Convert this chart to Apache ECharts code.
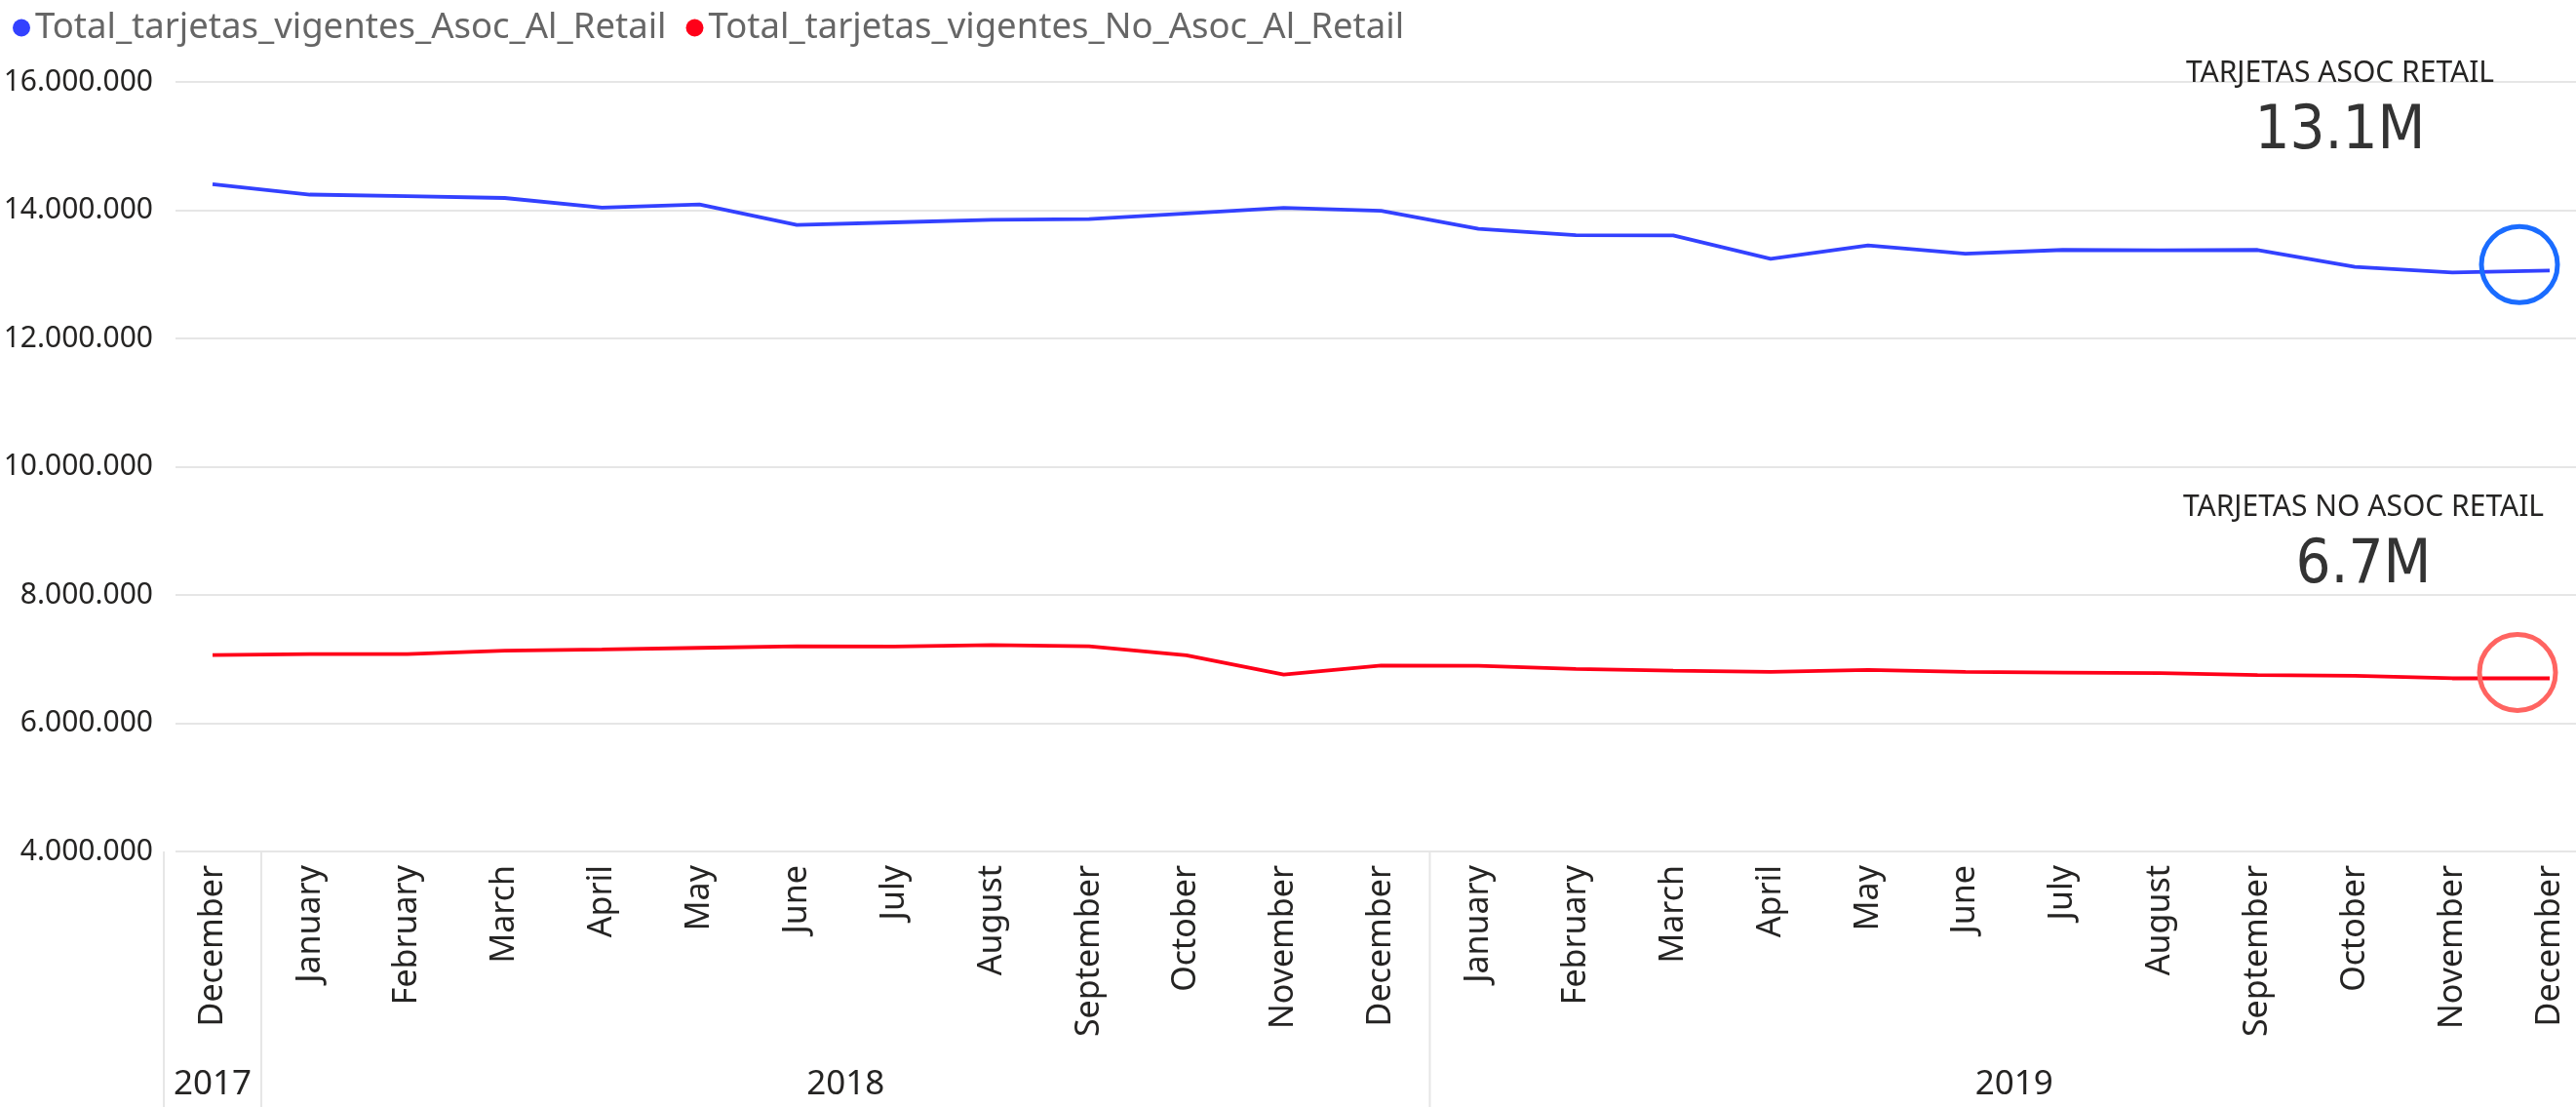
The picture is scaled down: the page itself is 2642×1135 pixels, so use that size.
<!DOCTYPE html>
<html>
<head>
<meta charset="utf-8">
<script src="https://cdn.jsdelivr.net/npm/echarts@6/dist/echarts.min.js"></script>
<style>
  html, body { margin: 0; padding: 0; background: #fff; }
  #chart { width: 2642px; height: 1135px; }
</style>
</head>
<body>
<div id="chart"></div>
<script>
// data
var months = ['2017-12', '2018-01', '2018-02', '2018-03', '2018-04', '2018-05', '2018-06', '2018-07', '2018-08',
  '2018-09', '2018-10', '2018-11', '2018-12', '2019-01', '2019-02', '2019-03', '2019-04', '2019-05', '2019-06',
  '2019-07', '2019-08', '2019-09', '2019-10', '2019-11', '2019-12'];
var monthNames = ['December', 'January', 'February', 'March', 'April', 'May', 'June', 'July', 'August',
  'September', 'October', 'November', 'December', 'January', 'February', 'March', 'April', 'May', 'June',
  'July', 'August', 'September', 'October', 'November', 'December'];
var years = ['2017', '2018', '2019'];
var asocRetail = [14405000, 14243000, 14218000, 14190000, 14040000, 14090000, 13770000, 13810000, 13850000,
  13860000, 13950000, 14035000, 13990000, 13710000, 13610000, 13605000, 13240000, 13450000, 13320000,
  13380000, 13375000, 13380000, 13115000, 13030000, 13060000];
var noAsocRetail = [7064000, 7079000, 7079000, 7130000, 7150000, 7175000, 7200000, 7195000, 7220000,
  7200000, 7060000, 6760000, 6900000, 6895000, 6845000, 6820000, 6800000, 6830000, 6800000,
  6790000, 6780000, 6750000, 6740000, 6700000, 6700000];
var yMin = 4000000, yMax = 16000000, yStep = 2000000;

var font = "'Noto Sans', 'Open Sans', sans-serif";
var last = months.length - 1;

function fmt(v) {
  return String(v).replace(/\B(?=(\d{3})+(?!\d))/g, '.');
}
function short(v) {
  return (v / 1000000).toFixed(1) + 'M';
}

var chart = echarts.init(document.getElementById('chart'));
var option = {
  animation: false,
  legend: {
    left: 8, top: 5,
    icon: 'circle', itemWidth: 18, itemHeight: 18, itemGap: 20,
    textStyle: { fontSize: 36.5, color: '#666666', fontFamily: font },
    data: ['Total_tarjetas_vigentes_Asoc_Al_Retail', 'Total_tarjetas_vigentes_No_Asoc_Al_Retail']
  },
  grid: [
    { left: 180, right: 0, top: 84, bottom: 262 },
    { left: 218, right: 27, top: 84, bottom: 262 }
  ],
  xAxis: [
    { gridIndex: 0, type: 'value', show: false },
    {
      gridIndex: 1, type: 'category', data: months, boundaryGap: false,
      axisLine: { show: false }, axisTick: { show: false },
      axisLabel: {
        rotate: 90, margin: 14, interval: 0, fontSize: 34, color: '#252423', fontFamily: font,
        formatter: function (v, i) { return monthNames[i]; }
      }
    }
  ],
  yAxis: [
    {
      gridIndex: 0, type: 'value', min: yMin, max: yMax, interval: yStep,
      axisLine: { show: false }, axisTick: { show: false },
      axisLabel: { formatter: fmt, fontSize: 30, margin: 23, color: '#252423', fontFamily: font },
      splitLine: { lineStyle: { color: '#e6e6e6', width: 2 } }
    },
    { gridIndex: 1, type: 'value', min: yMin, max: yMax, show: false }
  ],
  series: [
    {
      name: 'Total_tarjetas_vigentes_Asoc_Al_Retail', type: 'line',
      xAxisIndex: 1, yAxisIndex: 1, data: asocRetail,
      showSymbol: false, color: '#3341ff',
      lineStyle: { width: 3.8, color: '#3341ff' },
      markPoint: {
        silent: true, symbol: 'circle', symbolSize: 78, symbolOffset: [-31, -6],
        label: { show: false },
        itemStyle: { color: 'rgba(0,0,0,0)', borderColor: '#1a6cff', borderWidth: 5 },
        data: [{ coord: [months[last], asocRetail[last]] }]
      }
    },
    {
      name: 'Total_tarjetas_vigentes_No_Asoc_Al_Retail', type: 'line',
      xAxisIndex: 1, yAxisIndex: 1, data: noAsocRetail,
      showSymbol: false, color: '#ff0019',
      lineStyle: { width: 3.8, color: '#ff0019' },
      markPoint: {
        silent: true, symbol: 'circle', symbolSize: 78, symbolOffset: [-33, -6],
        label: { show: false },
        itemStyle: { color: 'rgba(0,0,0,0)', borderColor: '#ff6461', borderWidth: 5 },
        data: [{ coord: [months[last], noAsocRetail[last]] }]
      }
    }
  ]
};
chart.setOption(option);

// year separators, year labels and the two KPI labels
function px(i) { return chart.convertToPixel({ xAxisIndex: 1 }, months[i]); }
var step = px(1) - px(0);
var axisY = chart.convertToPixel({ yAxisIndex: 1 }, yMin);
var g = [];
[px(0) - step / 2, px(0) + step / 2, px(12) + step / 2].forEach(function (x) {
  g.push({ type: 'line', silent: true, shape: { x1: x, y1: axisY, x2: x, y2: 1135 },
    style: { stroke: '#e6e6e6', lineWidth: 2 } });
});
var yearX = [px(0), (px(1) + px(12)) / 2, (px(13) + px(24)) / 2];
years.forEach(function (y, i) {
  g.push({ type: 'text', x: yearX[i], y: 1112,
    style: { text: y, fontSize: 35, fontFamily: font, fill: '#252423', textAlign: 'center', textVerticalAlign: 'middle' } });
});
function kpi(title, value, cx, y1, y2) {
  g.push({ type: 'text', x: cx, y: y1,
    style: { text: title, fontSize: 30, fontFamily: font, fill: '#252423', textAlign: 'center', textVerticalAlign: 'middle' } });
  g.push({ type: 'text', x: cx, y: y2,
    style: { text: value, fontSize: 63, fontFamily: "'Liberation Sans Narrow', 'DejaVu Sans Condensed', Roboto, sans-serif",
      fill: '#333333', textAlign: 'center', textVerticalAlign: 'middle' } });
}
kpi('TARJETAS ASOC RETAIL', short(asocRetail[last]), 2400, 75, 136);
kpi('TARJETAS NO ASOC RETAIL', short(noAsocRetail[last]), 2424, 520, 581);
chart.setOption({ graphic: g });
</script>
</body>
</html>
